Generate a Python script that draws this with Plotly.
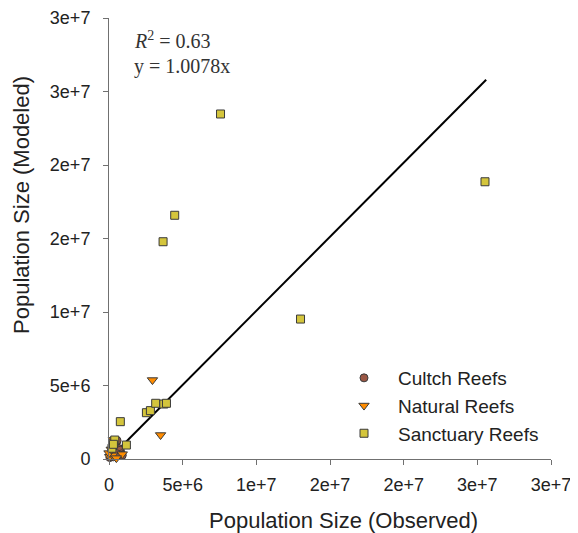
import plotly.graph_objects as go

# Tick values / labels
tick_vals = [0, 5e6, 1e7, 1.5e7, 2e7, 2.5e7, 3e7]
tick_text = ["0", "5e+6", "1e+7", "2e+7", "2e+7", "3e+7", "3e+7"]

# Data (observed, modeled)
cultch_obs = [60000, 150000, 250000, 350000, 420000, 500000, 550000, 620000, 700000, 760000, 850000, 900000, 300000, 480000]
cultch_mod = [100000, 250000, 500000, 700000, 900000, 1150000, 1250000, 450000, 700000, 600000, 350000, 250000, 150000, 380000]

natural_obs = [2950000, 3500000, 300000, 50000, 250000, 900000, 0, 500000, 150000, 350000]
natural_mod = [5370000, 1630000, 1300000, 150000, 250000, 330000, 400000, 60000, 650000, 900000]

sanct_obs = [7570000, 25520000, 4460000, 3670000, 13000000, 770000, 2540000, 2810000, 3170000, 3720000, 3900000, 1180000, 200000, 390000, 300000]
sanct_mod = [23470000, 18860000, 16580000, 14780000, 9520000, 2540000, 3150000, 3290000, 3790000, 3740000, 3790000, 950000, 730000, 1290000, 1000000]

slope = 1.0078
fit_x = [0, 25600000]
fit_y = [slope * v for v in fit_x]

FONT = "Liberation Sans, Arial, sans-serif"
SERIF = "Liberation Serif, Times New Roman, serif"
edge = dict(color="#3a3a3a", width=1)

fig = go.Figure()
fig.add_trace(go.Scatter(x=fit_x, y=fit_y, mode="lines", line=dict(color="black", width=2),
                         showlegend=False, hoverinfo="skip"))
fig.add_trace(go.Scatter(x=cultch_obs, y=cultch_mod, mode="markers", name="Cultch Reefs",
                         marker=dict(symbol="circle", size=8, color="#9a5744", line=edge), cliponaxis=False))
fig.add_trace(go.Scatter(x=natural_obs, y=natural_mod, mode="markers", name="Natural Reefs",
                         marker=dict(symbol="triangle-down", size=9, color="#ff8c00", line=edge), cliponaxis=False))
fig.add_trace(go.Scatter(x=sanct_obs, y=sanct_mod, mode="markers", name="Sanctuary Reefs",
                         marker=dict(symbol="square", size=8, color="#d4c53c", line=edge), cliponaxis=False))

axis_common = dict(range=[0, 3e7], tickvals=tick_vals, ticktext=tick_text, showgrid=False, zeroline=False,
                   showline=True, linecolor="#707070", linewidth=1, ticks="outside", ticklen=5,
                   tickcolor="#707070", tickfont=dict(family=FONT, size=18, color="#222"),
                   automargin=False)

# page body adds an 8px offset at top/left, so the figure is 8px smaller and left/top margins compensate
fig.update_layout(
    width=570, height=525,
    margin=dict(l=101, r=27, t=10, b=74),
    paper_bgcolor="white", plot_bgcolor="white",
    xaxis=dict(**axis_common, ticklabelstandoff=4),
    yaxis=dict(**axis_common, ticklabelstandoff=9),
    showlegend=True,
    legend=dict(x=(330 - 109) / 442, y=(459 - 359) / 441, xanchor="left", yanchor="top",
                font=dict(family=FONT, size=19, color="#222"), bgcolor="rgba(0,0,0,0)",
                itemwidth=58, tracegroupgap=0),
    annotations=[
        dict(text="<i>R</i><sup>2</sup> = 0.63", x=(132 - 109) / 442, y=(459 - 40) / 441,
             xref="paper", yref="paper", xanchor="left", yanchor="middle", showarrow=False,
             font=dict(family=SERIF, size=20, color="#333")),
        dict(text="y = 1.0078x", x=(132 - 109) / 442, y=(459 - 66) / 441,
             xref="paper", yref="paper", xanchor="left", yanchor="middle", showarrow=False,
             font=dict(family=SERIF, size=20, color="#333")),
        dict(text="Population Size (Observed)", x=(343 - 109) / 442, y=(459 - 520) / 441,
             xref="paper", yref="paper", xanchor="center", yanchor="middle", showarrow=False,
             font=dict(family=FONT, size=22, color="#222")),
        dict(text="Population Size (Modeled)", x=(22 - 109) / 442, y=(459 - 205) / 441,
             xref="paper", yref="paper", xanchor="center", yanchor="middle", showarrow=False,
             textangle=-90, font=dict(family=FONT, size=22, color="#222")),
    ],
)

fig.write_html("out.html")
